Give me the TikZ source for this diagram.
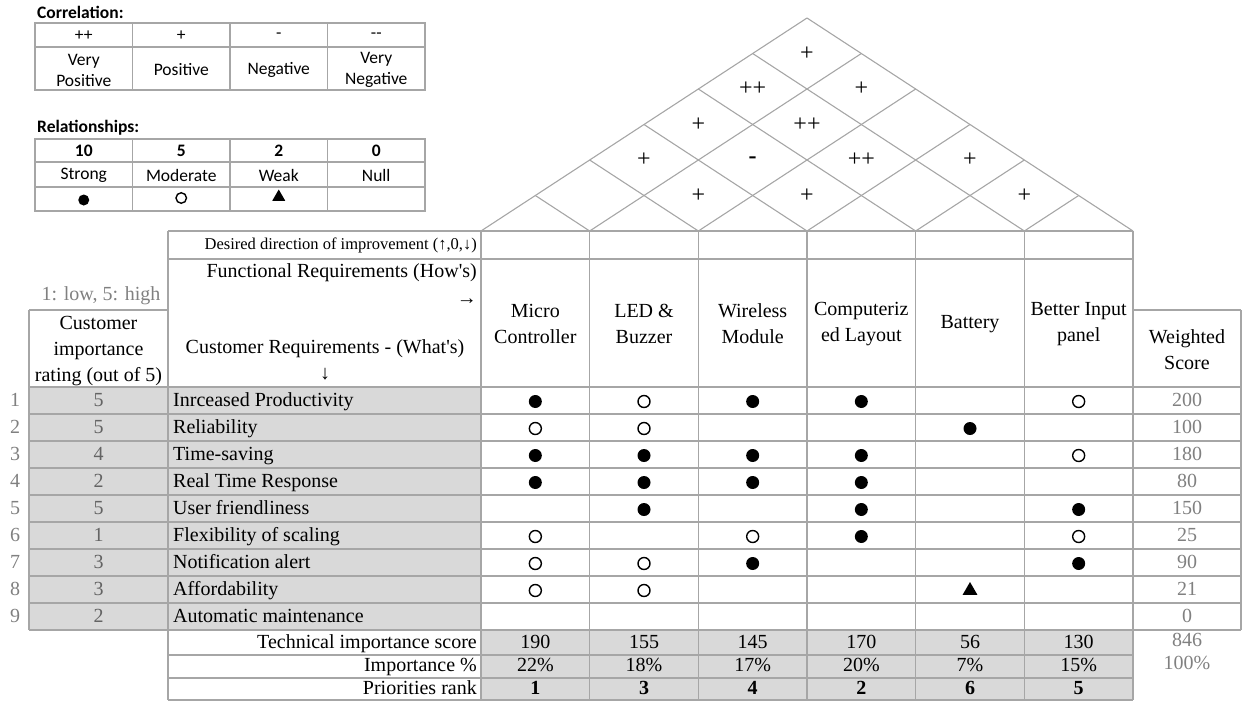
\documentclass[tikz,border=0pt]{standalone}
\usepackage{fontspec}
\setmainfont{Liberation Serif}
\newfontfamily\legendfont{Carlito}
\usetikzlibrary{shapes.geometric}
\definecolor{gridgray}{RGB}{166,166,166}
\definecolor{cellgray}{RGB}{217,217,217}
\definecolor{txtgray}{RGB}{128,128,128}
\definecolor{rategray}{RGB}{100,100,100}
\tikzset{
  qfdline/.style  = {draw=gridgray, line width=1.6pt},
  roofline/.style = {draw=gridgray, line width=1.1pt},
  legline/.style  = {draw=gridgray, line width=1.3pt},
  cell/.style     = {inner sep=0pt, text height=13.5pt, text depth=4.5pt,
                     font=\fontsize{20}{26}\selectfont},
  hdr/.style      = {inner sep=0pt, align=center, font=\fontsize{20}{26}\selectfont},
  dirtext/.style  = {inner sep=0pt, font=\fontsize{16.5}{20}\selectfont},
  corr/.style     = {inner sep=0pt, font=\fontsize{24}{24}\selectfont},
  leg/.style      = {inner sep=0pt, align=center, font=\legendfont\fontsize{17.5}{21}\selectfont},
  legtitle/.style = {inner sep=0pt, anchor=west, font=\legendfont\bfseries\fontsize{17.5}{21}\selectfont},
  relS/.style     = {circle, fill=black, inner sep=0pt, minimum size=13pt},
  relM/.style     = {circle, draw=black, line width=1.4pt, inner sep=0pt, minimum size=12pt},
  relW/.style     = {regular polygon, regular polygon sides=3, fill=black, inner sep=0pt, minimum size=17pt}
}

\begin{document}
\begin{tikzpicture}[x=1pt,y=-1pt]
  \useasboundingbox (0,0) rectangle (1242,702);

  % shaded cells
  \fill[cellgray] (29,387) rectangle (481,630);
  \fill[cellgray] (481,630) rectangle (1133,700);

  % roof
  \foreach \k in {1,...,6}
    \draw[roofline] (481+\k*108.667,231) -- (481+\k*54.333,231-\k*35.5);
  \foreach \k in {0,...,5}
    \draw[roofline] (481+\k*108.667,231) -- (807+\k*54.333,18+\k*35.5);

  % table lines
  \draw[qfdline] (168,231) -- (1133,231);
  \draw[qfdline] (168,259) -- (1133,259);
  \draw[qfdline] (29,310) -- (168,310);
  \draw[qfdline] (1133,310) -- (1241,310);
  \foreach \r in {0,...,9}
    \draw[qfdline] (29,387+\r*27) -- (1241,387+\r*27);
  \foreach \y in {655,678,700}
    \draw[qfdline] (168,\y) -- (1133,\y);
  \draw[qfdline] (29,310) -- (29,630);
  \draw[qfdline] (168,231) -- (168,700);
  \foreach \k in {0,...,6}
    \draw[qfdline] (481+\k*108.667,231) -- (481+\k*108.667,700);
  \draw[qfdline] (1241,310) -- (1241,630);

  % correlation roof
  \foreach \i/\j/\v in {1/6/+, 1/5/++, 2/6/+, 1/4/+, 2/5/++, 1/3/+, 2/4/{\textbf{-}},
                        3/5/++, 4/6/+, 2/3/+, 3/4/+, 5/6/+}
    \node[corr] (c\i\j) at (481+\i*54.333+\j*54.333-54.333, 231-\j*35.5+\i*35.5) {\v};

  % header
  \node[inner sep=0pt, text=txtgray, font=\fontsize{20}{26}\selectfont] (scale) at (101,296) {1: low, 5: high};
  \node[hdr] (imphdr) at (98.5,351) {Customer\\importance\\rating (out of 5)};
  \node[dirtext, anchor=east] (dir) at (477,245) {Desired direction of improvement (↑,0,↓)};
  \node[cell, anchor=east] (how) at (477,273) {Functional Requirements (How\textquotesingle s)};
  \node[cell, anchor=east] (howarr) at (477,300) {→};
  \node[cell] (what) at (325,349) {Customer Requirements - (What\textquotesingle s)};
  \node[cell] (whatarr) at (325,375) {↓};
  \foreach \c/\txt in {1/{Micro\\Controller}, 2/{LED \&\\Buzzer}, 3/{Wireless\\Module},
                       4/{Computeriz\\ed Layout}, 5/Battery, 6/{Better Input\\panel}}
    \node[hdr] (fr\c) at (481+\c*108.667-54.333,324) {\txt};
  \node[hdr] (wshdr) at (1187,350) {Weighted\\Score};

  % customer requirements
  \foreach \r/\imp/\req/\ws in {1/5/Inrceased Productivity/200, 2/5/Reliability/100,
      3/4/Time-saving/180, 4/2/Real Time Response/80, 5/5/User friendliness/150,
      6/1/Flexibility of scaling/25, 7/3/Notification alert/90, 8/3/Affordability/21,
      9/2/Automatic maintenance/0} {
    \node[cell, text=txtgray] (n\r) at (15,375+\r*27) {\r};
    \node[cell, text=rategray] (imp\r) at (98.5,375+\r*27) {\imp};
    \node[cell, anchor=west] (req\r) at (173,375+\r*27) {\req};
    \node[cell, text=txtgray] (ws\r) at (1187,375+\r*27) {\ws};
  }

  % relationship matrix
  \foreach \r/\c/\t in {1/1/S, 1/2/M, 1/3/S, 1/4/S, 1/6/M, 2/1/M, 2/2/M, 2/5/S,
      3/1/S, 3/2/S, 3/3/S, 3/4/S, 3/6/M, 4/1/S, 4/2/S, 4/3/S, 4/4/S,
      5/2/S, 5/4/S, 5/6/S, 6/1/M, 6/3/M, 6/4/S, 6/6/M,
      7/1/M, 7/2/M, 7/3/S, 7/6/S, 8/1/M, 8/2/M, 8/5/W}
    \node[style=rel\t] (m\r\c) at (481+\c*108.667-54.333, 374.5+\r*27) {};

  % bottom rows
  \node[cell, anchor=east] (tis) at (477,643.5) {Technical importance score};
  \node[cell, anchor=east] (ipct) at (477,667) {Importance \%};
  \node[cell, anchor=east] (prank) at (477,689.5) {Priorities rank};
  \foreach \c/\s/\p/\k in {1/190/22/1, 2/155/18/3, 3/145/17/4, 4/170/20/2, 5/56/7/6, 6/130/15/5} {
    \node[cell] (tis\c) at (481+\c*108.667-54.333,643.5) {\s};
    \node[cell] (ipct\c) at (481+\c*108.667-54.333,667) {\p\%};
    \node[cell] (prank\c) at (481+\c*108.667-54.333,689.5) {\textbf{\k}};
  }
  \node[cell, text=txtgray] (tistot) at (1187,642) {846};
  \node[cell, text=txtgray] (ipcttot) at (1187,665) {100\%};

  % legend: correlation
  \node[legtitle] (corrtitle) at (37,12) {Correlation:};
  \draw[legline] (35,23) rectangle (425,90);
  \draw[legline] (35,47) -- (425,47);
  \foreach \k in {1,2,3}
    \draw[legline] (35+\k*97.5,23) -- (35+\k*97.5,90);
  \foreach \c/\sym/\txt in {1/++/{Very\\Positive}, 2/+/Positive, 3/-/Negative, 4/-{}-/{Very\\Negative}} {
    \node[leg] (cs\c) at (35+\c*97.5-48.75,36) {\sym};
    \node[leg] (ct\c) at (35+\c*97.5-48.75,70) {\txt};
  }

  % legend: relationships
  \node[legtitle] (reltitle) at (37,128) {Relationships:};
  \draw[legline] (35,139) rectangle (425,211);
  \draw[legline] (35,162) -- (425,162);
  \draw[legline] (35,187) -- (425,187);
  \foreach \k in {1,2,3}
    \draw[legline] (35+\k*97.5,139) -- (35+\k*97.5,211);
  \foreach \c/\val/\txt in {1/10/Strong, 2/5/Moderate, 3/2/Weak, 4/0/Null} {
    \node[leg] (rv\c) at (35+\c*97.5-48.75,151) {\textbf{\val}};
    \node[leg] (rt\c) at (35+\c*97.5-48.75,175) {\txt};
  }
  \node[relS, minimum size=11pt] (rs1) at (83.75,200) {};
  \node[relM, minimum size=10.5pt] (rs2) at (181.25,198) {};
  \node[relW, minimum size=15pt] (rs3) at (278.75,197) {};
\end{tikzpicture}
\end{document}
